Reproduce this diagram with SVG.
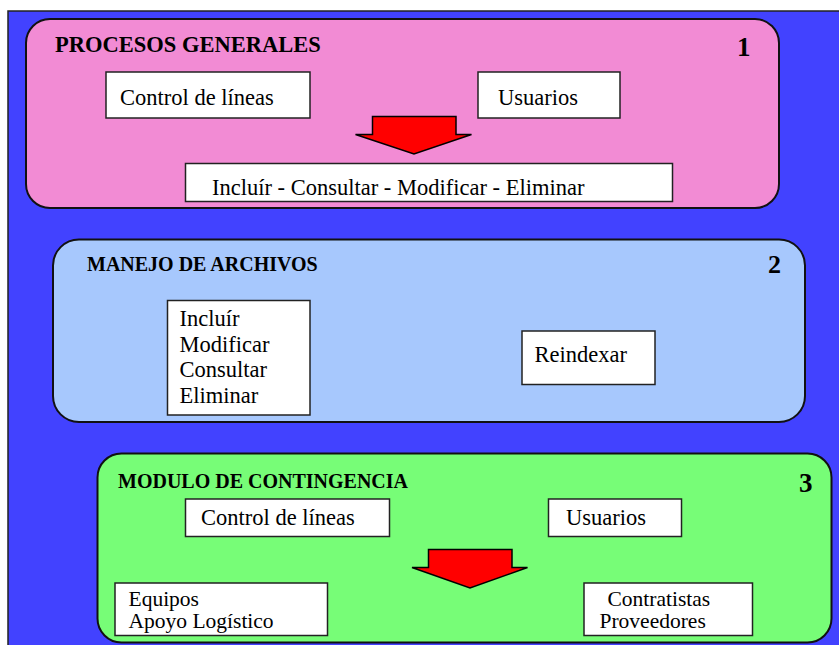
<svg xmlns="http://www.w3.org/2000/svg" width="839" height="645" viewBox="0 0 839 645">
<style>
.t{font-family:"Liberation Serif","Times New Roman",serif;font-size:22.5px;fill:#000}
.t2{font-family:"Liberation Serif","Times New Roman",serif;font-size:21.5px;fill:#000}
.h{font-family:"Liberation Serif","Times New Roman",serif;font-weight:bold;fill:#000}
.box{fill:#fff;stroke:#222;stroke-width:1.5}
.panel{stroke:#111;stroke-width:2}
.arrow{fill:#ff0000;stroke:#000;stroke-width:1.5;stroke-linejoin:miter}
</style>
<rect x="0" y="0" width="839" height="645" fill="#fff"/>
<rect x="8" y="11" width="840" height="645" fill="#4242ff" stroke="#222" stroke-width="1.5"/>

<g id="procesos">
<rect class="panel" x="26" y="19" width="753" height="189" rx="24" fill="#f28bd4"/>
<text class="h" x="55" y="52" font-size="22.5">PROCESOS GENERALES</text>
<text class="h" x="737" y="56" font-size="27">1</text>
</g>
<g id="p-control">
<rect class="box" x="106" y="72" width="204" height="46"/>
<text class="t" x="120" y="105">Control de líneas</text>
</g>
<g id="p-usuarios">
<rect class="box" x="478" y="72" width="142" height="46"/>
<text class="t" x="498" y="105">Usuarios</text>
</g>
<g id="p-acciones">
<rect class="box" x="185.5" y="163.5" width="487" height="38"/>
<text class="t" x="212" y="195">Incluír - Consultar - Modificar - Eliminar</text>
</g>

<g id="archivos">
<rect class="panel" x="53" y="239.5" width="752" height="182.5" rx="26" fill="#a7c8fd"/>
<text class="h" x="87" y="271" font-size="20">MANEJO DE ARCHIVOS</text>
<text class="h" x="768" y="273" font-size="26">2</text>
</g>
<g id="a-operaciones">
<rect class="box" x="167.5" y="300.5" width="142.5" height="114.5"/>
<text class="t" x="179.5" y="326">Incluír<tspan x="179.5" dy="25.5">Modificar</tspan><tspan x="179.5" dy="25.5">Consultar</tspan><tspan x="179.5" dy="25.5">Eliminar</tspan></text>
</g>
<g id="a-reindexar">
<rect class="box" x="522" y="331" width="133" height="53.5"/>
<text class="t" x="534.5" y="361.5">Reindexar</text>
</g>

<g id="contingencia">
<rect class="panel" x="97.5" y="453.5" width="734" height="189" rx="24" fill="#77fd77"/>
<text class="h" x="118" y="488" font-size="20">MODULO DE CONTINGENCIA</text>
<text class="h" x="799" y="492" font-size="27">3</text>
</g>
<g id="c-control">
<rect class="box" x="185.5" y="499" width="204" height="37.5"/>
<text class="t" x="201" y="525">Control de líneas</text>
</g>
<g id="c-usuarios">
<rect class="box" x="548.5" y="499" width="133" height="37.5"/>
<text class="t" x="566" y="525">Usuarios</text>
</g>
<g id="c-equipos">
<rect class="box" x="115" y="583" width="212.5" height="52.5"/>
<text class="t2" x="128.5" y="605.5">Equipos<tspan x="128.5" dy="22">Apoyo Logístico</tspan></text>
</g>
<g id="c-contratistas">
<rect class="box" x="584" y="583" width="168.5" height="52.5"/>
<text class="t2" x="607.5" y="605.5">Contratistas<tspan x="599.5" dy="22">Proveedores</tspan></text>
</g>

<g id="connectors">
<polygon class="arrow" points="372.5,116.5 456,116.5 456,134.5 471.5,134.5 414,154 355.5,134.5 372.5,134.5"/>
<polygon class="arrow" points="428.5,549.5 512,549.5 512,567.5 527.5,567.5 470,588 412,567.5 428.5,567.5"/>
</g>
</svg>
